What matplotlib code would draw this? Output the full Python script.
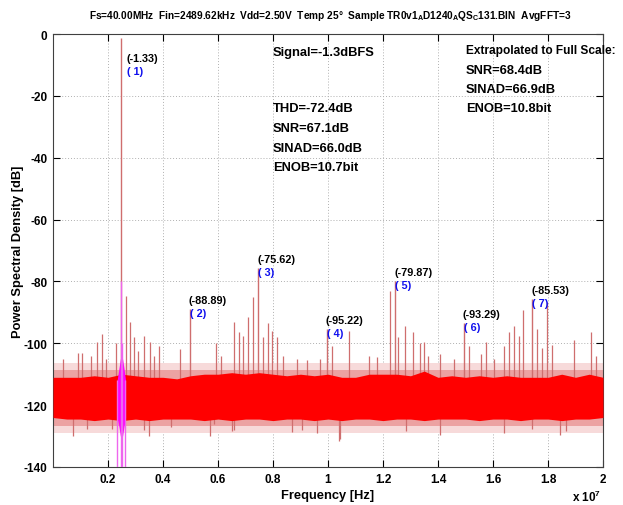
import numpy as np
import matplotlib
matplotlib.use('Agg')
import matplotlib.pyplot as plt

plt.rcParams['font.family'] = ['Liberation Sans', 'DejaVu Sans']
plt.rcParams['font.weight'] = 'bold'
plt.rcParams['mathtext.fontset'] = 'custom'
plt.rcParams['mathtext.rm'] = 'Liberation Sans:bold'
plt.rcParams['mathtext.bf'] = 'Liberation Sans:bold'

MHZ = 1e6

# ---------------- data ----------------
# noise floor band, sampled every 0.5 MHz
band_freq_mhz = [0.0, 0.5, 1.0, 1.5, 2.0, 2.5, 3.0, 3.5, 4.0, 4.5, 5.0, 5.5, 6.0, 6.5,
                 7.0, 7.5, 8.0, 8.5, 9.0, 9.5, 10.0, 10.5, 11.0, 11.5, 12.0, 12.5,
                 13.0, 13.5, 14.0, 14.5, 15.0, 15.5, 16.0, 16.5, 17.0, 17.5, 18.0,
                 18.5, 19.0, 19.5, 20.0]
core_upper = [-111, -111, -111, -110.5, -111, -110, -110.5, -111, -111, -111.5, -110.5,
              -110, -110, -109.5, -110, -109.5, -110, -110.5, -110, -110.5, -110, -111,
              -111, -110, -110, -110, -110.5, -109, -111, -110.5, -111, -110.5, -111,
              -110.5, -111, -111, -111, -110, -111, -110, -111]
core_lower = [-124, -124.5, -124.5, -125, -124.5, -125, -124.5, -125, -124.5, -124.5,
              -124.5, -125, -124.5, -125, -124.5, -124.5, -125, -124.5, -124.5, -125,
              -124.5, -125, -124.5, -124.5, -125, -124.5, -124.5, -125, -124.5, -124.5,
              -124.5, -125, -124.5, -124.5, -125, -124.5, -124.5, -125, -124.5, -124.5,
              -124]
inner_fringe = (-126.8, -108.6)
outer_fringe = (-129.0, -106.5)

# spurs rising above the noise floor
spur_freq_mhz = [0.36, 0.91, 1.05, 1.38, 1.60, 1.78, 1.93, 2.29, 2.65, 2.80, 2.94, 3.09,
                 3.31, 3.53, 3.67, 3.85, 4.62, 5.93, 6.10, 6.58, 6.76, 6.91, 7.09, 7.27,
                 7.65, 7.82, 7.98, 8.16, 8.36, 8.87, 9.24, 9.71, 10.15, 10.76, 11.50,
                 11.78, 12.25, 12.55, 12.80, 13.10, 13.35, 13.50, 13.65, 14.07, 14.58,
                 15.13, 15.56, 15.75, 16.04, 16.40, 16.58, 16.76, 16.95, 17.10, 17.60,
                 17.78, 17.96, 18.15, 18.95, 19.56, 19.75]
spur_level = [-105, -103, -103, -104, -99.6, -97, -105, -100, -84.7, -93, -98, -102.5,
              -97.6, -99.6, -104, -101, -102, -100, -104, -93, -96.5, -97.5, -91.5, -85,
              -98, -93.5, -96, -98, -104, -105, -105.5, -105, -101, -96, -104, -104.5,
              -83, -98, -94.4, -96.4, -100, -99.6, -104, -103.4, -105, -101, -103.6,
              -99.5, -105, -101, -96.4, -94.4, -97.6, -89.2, -95.3, -101.6, -86.6,
              -100.5, -99, -96.5, -104]

# dips below the noise floor
dip_freq_mhz = [0.73, 1.24, 2.13, 3.30, 3.50, 4.30, 5.70, 5.85, 6.50, 6.60, 8.70, 9.05,
                9.60, 10.40, 10.45, 12.85, 14.07, 16.40, 17.40, 18.45, 18.65]
dip_level = [-130, -127.7, -127.7, -128, -130, -127, -130, -126, -128.4, -128, -128.7,
             -128, -129, -131.6, -131, -128.4, -129.7, -129, -127.8, -129.5, -128.4]

# fundamental and harmonics
harm_freq_mhz = [2.49, 4.98, 7.47, 9.96, 12.45, 14.94, 17.43]
harm_level = [-1.33, -88.89, -75.62, -95.22, -79.87, -93.29, -85.53]
harm_index = [1, 2, 3, 4, 5, 6, 7]

# signal bins (magenta)
sig_band_mhz = [2.33, 2.40, 2.45, 2.53, 2.58, 2.64]
sig_band_upper = [-112, -108, -105, -105, -108, -112]
sig_band_lower = [-124, -127, -130, -130, -127, -124]
sig_line_freq_mhz = [2.34, 2.49, 2.52, 2.61]
sig_line_level = [-112, -80, -100, -112]

stats_left = ['THD=-72.4dB', 'SNR=67.1dB', 'SINAD=66.0dB', 'ENOB=10.7bit']
stats_right = ['Extrapolated to Full Scale:', 'SNR=68.4dB', 'SINAD=66.9dB', 'ENOB=10.8bit']
signal_text = 'Signal=-1.3dBFS'

xtick_vals = [0.2, 0.4, 0.6, 0.8, 1.0, 1.2, 1.4, 1.6, 1.8, 2.0]   # x 1e7
xtick_labels = ['0.2', '0.4', '0.6', '0.8', '1', '1.2', '1.4', '1.6', '1.8', '2']
ytick_vals = [0, -20, -40, -60, -80, -100, -120, -140]

title = ('Fs=40.00MHz  Fin=2489.62kHz  Vdd=2.50V  Temp 25\u00b0  Sample '
         'TR0v1$_\\mathbf{A}$D1240$_\\mathbf{A}$QS$_\\mathbf{C}$131.BIN  AvgFFT=3')

# ---------------- drawing ----------------
W, H = 623, 506
fig = plt.figure(figsize=(W / 100, H / 100), dpi=100)
ax = fig.add_axes([53 / W, 1 - 468 / H, 550 / W, 433 / H])

bf = np.array(band_freq_mhz) * MHZ
spur_col = '#cf6e6e'

ax.fill_between(bf, outer_fringe[0], outer_fringe[1], color='#f7dada', lw=0, zorder=1)
ax.fill_between(bf, inner_fringe[0], inner_fringe[1], color='#eca2a2', lw=0, zorder=1.5)
ax.vlines(np.array(dip_freq_mhz) * MHZ, dip_level, -118, color=spur_col, lw=0.9, zorder=2)
ax.vlines(np.array(spur_freq_mhz) * MHZ, -115, spur_level, color=spur_col, lw=0.9, zorder=2)
ax.vlines(np.array(harm_freq_mhz) * MHZ, -115, harm_level, color=spur_col, lw=1.0, zorder=2)
ax.fill_between(bf, core_lower, core_upper, color='#ff0000', lw=0, zorder=3)

ax.fill_between(np.array(sig_band_mhz) * MHZ, sig_band_lower, sig_band_upper,
                color='#ff00ff', lw=0, zorder=4)
ax.vlines(np.array(sig_line_freq_mhz) * MHZ, -150, sig_line_level, color='#ee66ee',
          lw=1.0, zorder=4)

ax.set_xlim(0, 2e7)
ax.set_ylim(-140, 0)
ax.set_xticks(np.array(xtick_vals) * 1e7)
ax.set_xticklabels(xtick_labels)
ax.set_yticks(ytick_vals)
ax.set_yticklabels([str(v) for v in ytick_vals])
ax.tick_params(direction='in', length=5, width=0.8, top=True, right=True,
               labelsize=8.5, pad=4)
for lab in ax.get_xticklabels() + ax.get_yticklabels():
    lab.set_fontweight('bold')
ax.grid(True, linestyle=(0, (1, 2)), color='#b0b0b0', lw=0.7)
ax.set_axisbelow(True)
for s in ax.spines.values():
    s.set_linewidth(0.8)
    s.set_color('#404040')

ax.set_xlabel('Frequency [Hz]', fontsize=9.3, fontweight='bold', labelpad=3)
ax.set_ylabel('Power Spectral Density [dB]', fontsize=9.3, fontweight='bold', labelpad=0)
fig.text(330 / W, 1 - 16 / H, title, ha='center', va='center', fontsize=7.3,
         fontweight='bold')
fig.text(572 / W, 1 - 497 / H, 'x 10$^{7}$', ha='left', va='center', fontsize=8.5,
         fontweight='bold')


def px2data(px, py):
    return (px - 53) / 550 * 2e7, -(py - 35) / 433 * 140


fs_stat = 9.3
x, y = px2data(273, 53)
ax.text(x, y, signal_text, fontsize=fs_stat, fontweight='bold', va='center', ha='left')
for txt, py in zip(stats_left, [109, 129, 149, 168]):
    x, y = px2data(273, py)
    ax.text(x, y, txt, fontsize=fs_stat, fontweight='bold', va='center', ha='left')
for i, (txt, py) in enumerate(zip(stats_right, [51, 71, 90, 109])):
    x, y = px2data(466, py)
    ax.text(x, y, txt, fontsize=8.6 if i == 0 else fs_stat, fontweight='bold',
            va='center', ha='left', clip_on=False)

# harmonic labels
for f, lv, k in zip(harm_freq_mhz, harm_level, harm_index):
    if k == 1:
        dx, dy_blue = 6, -33
    else:
        dx, dy_blue = 0, -4
    ax.annotate('(%.2f)' % lv, (f * MHZ, lv), xytext=(dx - 1, dy_blue + 13),
                textcoords='offset pixels', fontsize=7.8, fontweight='bold',
                color='black', va='center', ha='left')
    ax.annotate('( %d)' % k, (f * MHZ, lv), xytext=(dx, dy_blue),
                textcoords='offset pixels', fontsize=7.8, fontweight='bold',
                color='#1010ee', va='center', ha='left')

fig.savefig('out.png', dpi=100)
